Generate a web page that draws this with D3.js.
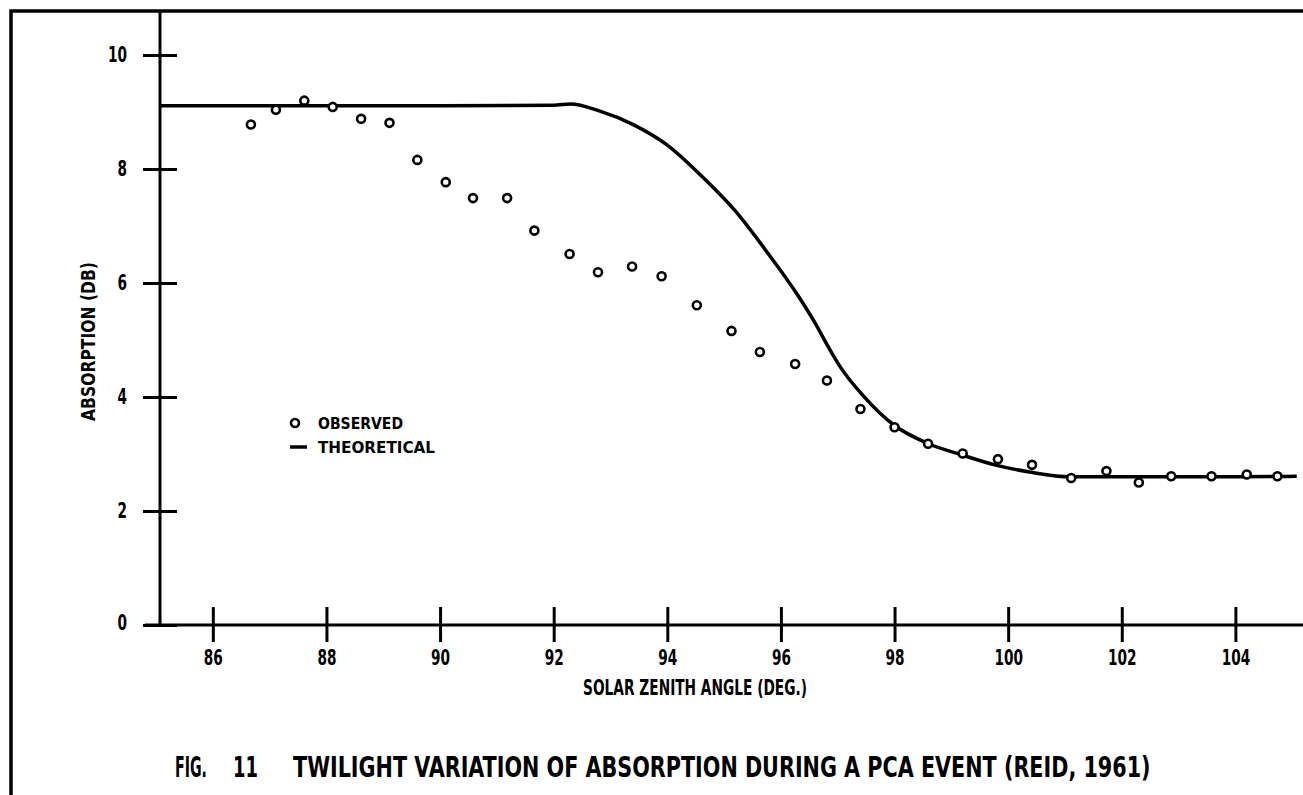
<!DOCTYPE html>
<html>
<head>
<meta charset="utf-8">
<script src="https://cdn.jsdelivr.net/npm/d3@7"></script>
<style>
  body { margin: 0; background: #fff; }
  svg { display: block; }
  .lbl { font-family: "DejaVu Sans", sans-serif; font-stretch: condensed; font-weight: bold; fill: #000; }
</style>
</head>
<body>
<script>
// observed points (solar zenith angle, absorption dB)
var obsX = [86.67, 87.11, 87.61, 88.11, 88.61, 89.11, 89.60, 90.10, 90.58, 91.18, 91.66,
            92.28, 92.78, 93.38, 93.90, 94.52, 95.13, 95.63, 96.25, 96.81, 97.40, 98.00,
            98.59, 99.20, 99.82, 100.42, 101.11, 101.73, 102.30, 102.87, 103.58, 104.20, 104.74];
var obsY = [8.78, 9.04, 9.20, 9.09, 8.88, 8.81, 8.16, 7.77, 7.49, 7.49, 6.92,
            6.51, 6.19, 6.29, 6.12, 5.61, 5.16, 4.79, 4.58, 4.29, 3.79, 3.47,
            3.18, 3.01, 2.91, 2.81, 2.58, 2.70, 2.50, 2.61, 2.61, 2.64, 2.61];

// theoretical curve
var theoX = [85.07, 88, 90, 92, 92.3, 92.8, 93.4, 94.0, 94.6, 95.2, 95.75, 96.3, 96.6,
             96.85, 97.05, 97.45, 98.0, 98.6, 99.2, 99.8, 100.4, 101.1, 102, 103, 104, 105.08];
var theoY = [9.11, 9.11, 9.11, 9.12, 9.14, 9.02, 8.78, 8.42, 7.88, 7.26, 6.55, 5.78, 5.3,
             4.85, 4.52, 4.02, 3.5, 3.18, 2.98, 2.8, 2.68, 2.6, 2.6, 2.6, 2.6, 2.61];

var xTicks = [86, 88, 90, 92, 94, 96, 98, 100, 102, 104];
var yTicks = [0, 2, 4, 6, 8, 10];

var width = 1303,
    height = 795;

var svg = d3.select("body")
    .append("svg")
    .attr("width", width)
    .attr("height", height);

var x = d3.scaleLinear()
    .domain([85.07, 105.19])
    .range([160, 1303]);

var y = d3.scaleLinear()
    .domain([0, 10.79])
    .range([625, 10]);

// squeeze a text horizontally so it spans w pixels
function fitText(sel, x0, y0, w) {
    var natural = sel.node().getComputedTextLength();
    sel.attr("transform", "translate(" + x0 + "," + y0 + ") scale(" + (w / natural) + ",1)");
}

// frame (left + top)
svg.append("path")
    .attr("d", "M11,795 V11 H1303")
    .attr("fill", "none")
    .attr("stroke", "#000")
    .attr("stroke-width", 3.5);

// axis lines
svg.append("line")
    .attr("x1", 145).attr("x2", 1303)
    .attr("y1", y(0)).attr("y2", y(0))
    .attr("stroke", "#000").attr("stroke-width", 3);
svg.append("line")
    .attr("x1", x.range()[0]).attr("x2", x.range()[0])
    .attr("y1", 11).attr("y2", y(0) + 1)
    .attr("stroke", "#000").attr("stroke-width", 3);

// x ticks (cross the axis)
var gx = svg.append("g")
    .attr("transform", "translate(0," + y(0) + ")")
    .call(d3.axisBottom(x).tickValues(xTicks).tickSize(17).tickPadding(8));
svg.append("g")
    .attr("transform", "translate(0," + y(0) + ")")
    .call(d3.axisTop(x).tickValues(xTicks).tickSize(18).tickFormat(""));

// y ticks (cross the axis)
var gy = svg.append("g")
    .attr("transform", "translate(" + x.range()[0] + ",0)")
    .call(d3.axisLeft(y).tickValues(yTicks).tickSize(17).tickPadding(16));
svg.append("g")
    .attr("transform", "translate(" + x.range()[0] + ",0)")
    .call(d3.axisRight(y).tickValues(yTicks).tickSize(17).tickFormat(""));

svg.selectAll(".domain").remove();
svg.selectAll(".tick line").attr("stroke", "#000").attr("stroke-width", 3);
svg.selectAll(".tick text")
    .attr("class", "lbl")
    .attr("font-size", null)
    .attr("font-family", null)
    .style("font-size", "21px")
    .attr("textLength", function(d) { return String(d).length * 9.5; })
    .attr("lengthAdjust", "spacingAndGlyphs");
gy.selectAll(".tick text").filter(function(d) { return d === 0; }).attr("dy", "0.2em");

// theoretical curve
var line = d3.line()
    .x(function(d, i) { return x(theoX[i]); })
    .y(function(d, i) { return y(theoY[i]); })
    .curve(d3.curveMonotoneX);

svg.append("path")
    .datum(theoX)
    .attr("d", line)
    .attr("fill", "none")
    .attr("stroke", "#000")
    .attr("stroke-width", 3.5);

// observed circles
svg.append("g")
  .selectAll("circle")
  .data(obsX)
  .enter().append("circle")
    .attr("cx", function(d) { return x(d); })
    .attr("cy", function(d, i) { return y(obsY[i]); })
    .attr("r", 4)
    .attr("fill", "#fff")
    .attr("stroke", "#000")
    .attr("stroke-width", 2.6);

// legend
svg.append("circle")
    .attr("cx", 295).attr("cy", 423).attr("r", 4)
    .attr("fill", "#fff").attr("stroke", "#000").attr("stroke-width", 2.6);
svg.append("line")
    .attr("x1", 290).attr("x2", 307).attr("y1", 447).attr("y2", 447)
    .attr("stroke", "#000").attr("stroke-width", 3.5);
svg.append("text")
    .attr("class", "lbl")
    .attr("x", 318).attr("y", 429)
    .attr("font-size", 16)
    .attr("textLength", 85).attr("lengthAdjust", "spacingAndGlyphs")
    .text("OBSERVED");
svg.append("text")
    .attr("class", "lbl")
    .attr("x", 318).attr("y", 453)
    .attr("font-size", 16)
    .attr("textLength", 117).attr("lengthAdjust", "spacingAndGlyphs")
    .text("THEORETICAL");

// axis titles
svg.append("text")
    .attr("class", "lbl")
    .attr("x", 583).attr("y", 695)
    .attr("font-size", 21)
    .attr("textLength", 224).attr("lengthAdjust", "spacingAndGlyphs")
    .text("SOLAR ZENITH ANGLE (DEG.)");

svg.append("text")
    .attr("class", "lbl")
    .attr("transform", "translate(95,421) rotate(-90)")
    .attr("font-size", 20)
    .attr("textLength", 159).attr("lengthAdjust", "spacingAndGlyphs")
    .text("ABSORPTION (DB)");

// figure caption
var capFig = svg.append("text")
    .attr("class", "lbl")
    .attr("font-size", 29)
    .text("FIG.");
fitText(capFig, 175, 777, 32);

var capNum = svg.append("text")
    .attr("class", "lbl")
    .attr("font-size", 29)
    .text("11");
fitText(capNum, 233, 777, 25);

var capText = svg.append("text")
    .attr("class", "lbl")
    .attr("font-size", 29)
    .text("TWILIGHT VARIATION OF ABSORPTION DURING A PCA EVENT (REID, 1961)");
fitText(capText, 293, 777, 858);
</script>
</body>
</html>
